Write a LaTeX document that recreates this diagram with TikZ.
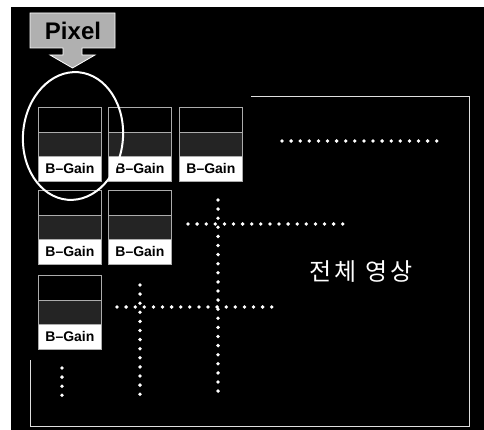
\documentclass[tikz,border=0pt]{standalone}
\usepackage{fontspec}
\setmainfont{Liberation Sans}
\newfontfamily\kr{Noto Sans CJK KR}
\begin{document}
\begin{tikzpicture}[x=1pt,y=-1pt,
  cell/.style={draw=gray!65, line width=0.8pt, inner sep=0pt, minimum width=63pt, anchor=north west},
  topcell/.style={cell, fill=black, minimum height=25pt},
  midcell/.style={cell, fill=black!86, minimum height=24pt},
  gaincell/.style={cell, fill=white, minimum height=25pt, font=\bfseries\fontsize{14}{14}\selectfont, text=black},
  dotline/.style={white, line width=3.8pt, line cap=round, dash pattern=on 0pt off 9.1pt},
  framel/.style={draw=gray!25, line width=1pt},
  callout/.style={fill=gray!62, draw=white, line width=0.8pt}]
\useasboundingbox (0,0) rectangle (484,430);
\fill[white] (0,0) rectangle (484,430);
\fill[black] (11,7) rectangle (484,430);
% whole-image frame
\coordinate (f1) at (251,97);
\coordinate (f2) at (469,97);
\coordinate (f3) at (469,426);
\coordinate (f4) at (30,426);
\coordinate (f5) at (30,360);
\draw[framel] (f1) -- (f2) -- (f3) -- (f4) -- (f5);
% dotted lines
\coordinate (h1a) at (282,141); \coordinate (h1b) at (438,141);
\coordinate (h2a) at (188,224); \coordinate (h2b) at (344,224);
\coordinate (h3a) at (117,307); \coordinate (h3b) at (273,307);
\coordinate (v1a) at (218,200); \coordinate (v1b) at (218,399);
\coordinate (v2a) at (140,285); \coordinate (v2b) at (140,401);
\coordinate (v3a) at (62,368);  \coordinate (v3b) at (62,397);
\draw[dotline] (h1a) -- (h1b);
\draw[dotline] (h2a) -- (h2b);
\draw[dotline] (h3a) -- (h3b);
\draw[dotline] (v1a) -- (v1b);
\draw[dotline] (v2a) -- (v2b);
\draw[dotline] (v3a) -- (v3b);
% pixel boxes
\foreach \x/\y/\n in {38/107/a,108/107/b,179/107/c,38/190/d,108/190/e,38/275/f} {
  \node[topcell] (\n1) at (\x,\y) {};
  \node[midcell] (\n2) at (\x,\y+25) {};
  \node[gaincell] (\n3) at (\x,\y+49) {B–Gain};
}
% highlight ellipse
\draw[white, line width=2pt, rotate around={-5:(73,136)}] (73,136) ellipse [x radius=50, y radius=64];
% Pixel callout
\draw[callout] (30,13) -- (115,13) -- (115,48) -- (82,48) -- (82,55) -- (95,55)
  -- (72.5,68) -- (50,55) -- (63,55) -- (63,48) -- (30,48) -- cycle;
\node[font=\bfseries\fontsize{24}{24}\selectfont, text=black] (pixel) at (73,31) {Pixel};
% label
\node[font=\kr\fontsize{24}{24}\selectfont, text=white] (whole) at (361,272) {전\hspace{3pt}체\hspace{3pt} 영\hspace{3pt}상};
\end{tikzpicture}
\end{document}
